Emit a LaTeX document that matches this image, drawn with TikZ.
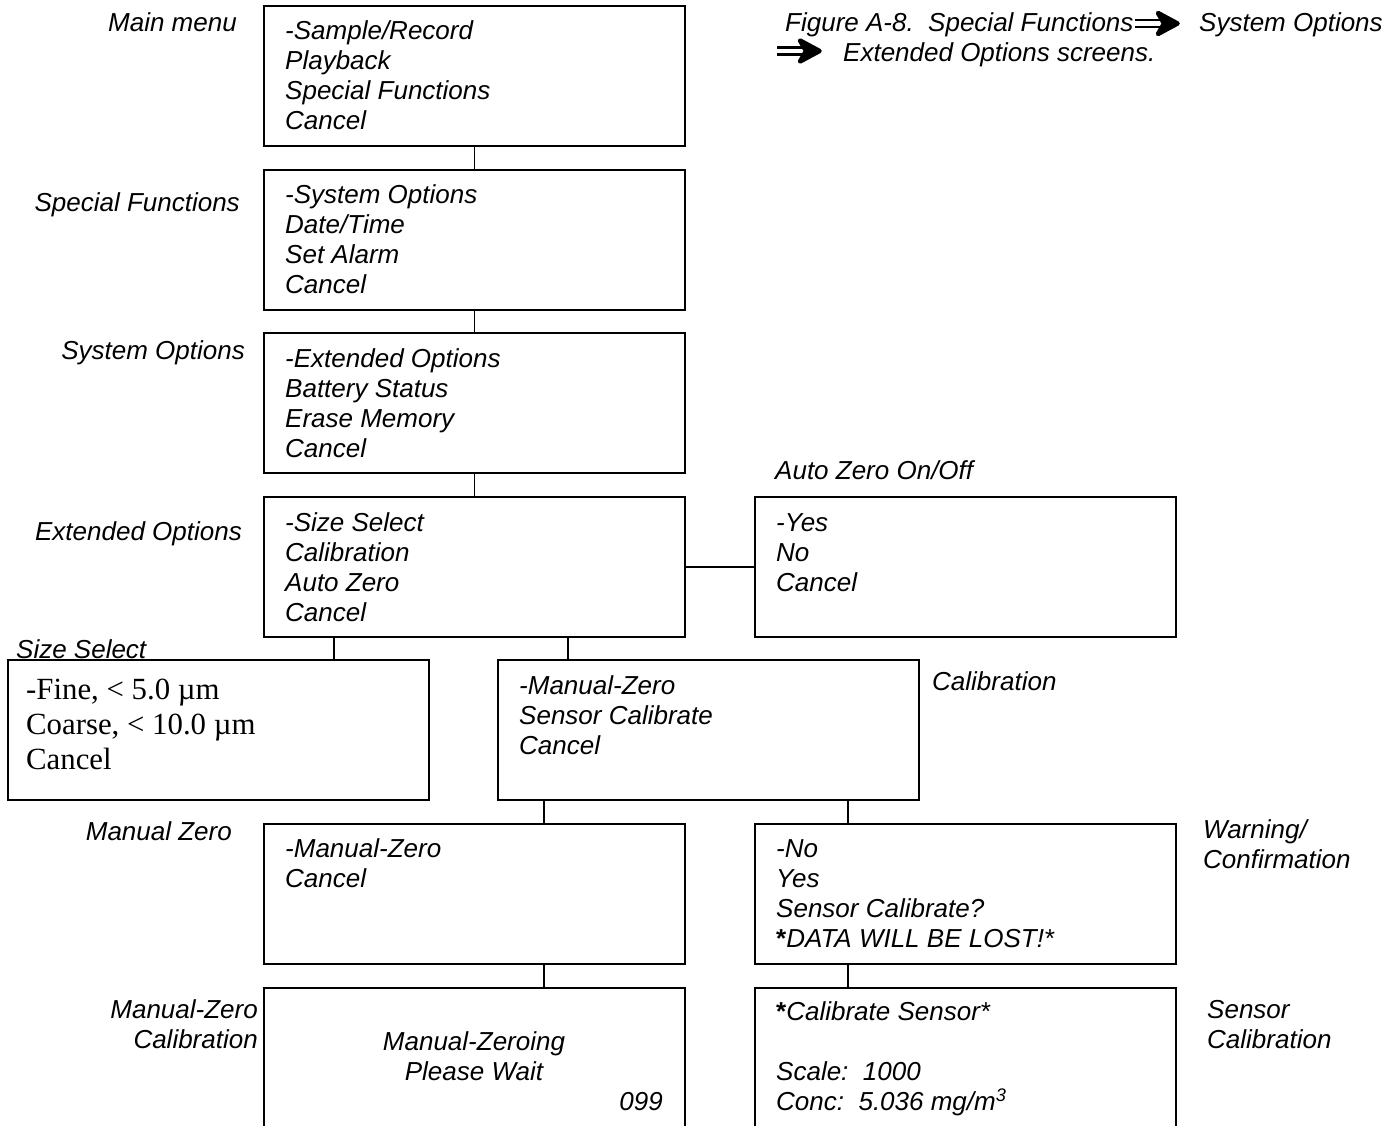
\documentclass[tikz,border=0pt]{standalone}
\usepackage{fontspec}
\setmainfont{Liberation Sans}
\newfontfamily\timesfont{Liberation Serif}
\newcommand\mylines[2][l]{\begin{tabular}[t]{@{}#1@{}}#2\end{tabular}}
\newcommand\boldstar{{\bfseries\upshape *}}
\tikzset{
  box/.style={draw, line width=1.8pt, rectangle, anchor=north west, inner sep=0pt,
              minimum width=421pt, minimum height=140pt},
  txt/.style={anchor=base west, inner sep=0pt, font=\fontsize{26}{30}\selectfont\itshape},
  lbl/.style={txt, anchor=base east},
  sertxt/.style={anchor=base west, inner sep=0pt, font=\fontsize{30.8}{35}\selectfont\timesfont\upshape},
  link/.style={line width=1.5pt},
  dblarrow/.pic={
    \draw[line width=2.6pt] (0,-3.4) -- (30,-3.4) (0,3.4) -- (30,3.4);
    \draw[line width=4.5pt, line join=round, fill] (23,-10.5) -- (42.5,0) -- (23,10.5) -- (29,0) -- cycle;
  }
}
\begin{document}
\begin{tikzpicture}[x=1pt, y=-1pt]
\useasboundingbox (0,0) rectangle (1390,1126);

% boxes
\node[box] (mm)   at (263,5)   {};
\node[box] (sf)   at (263,169) {};
\node[box] (so)   at (263,332) {};
\node[box] (eo)   at (263,496) {};
\node[box] (az)   at (754,496) {};
\node[box] (ss)   at (7,659)   {};
\node[box] (cal)  at (497,659) {};
\node[box] (mz)   at (263,823) {};
\node[box] (warn) at (754,823) {};
\node[box] (mzc)  at (263,987) {};
\node[box] (sc)   at (754,987) {};

% box contents
\node[txt] (mmt) at (285,40)  {\mylines{-Sample/Record\\Playback\\Special Functions\\Cancel}};
\node[txt] (sft) at (285,204) {\mylines{-System Options\\Date/Time\\Set Alarm\\Cancel}};
\node[txt] (sot) at (285,367) {\mylines{-Extended Options\\Battery Status\\Erase Memory\\Cancel}};
\node[txt] (eot) at (285,531) {\mylines{-Size Select\\Calibration\\Auto Zero\\Cancel}};
\node[txt] (azt) at (776,531) {\mylines{-Yes\\No\\Cancel}};
\node[sertxt] (sst) at (26,699) {\mylines{-Fine, < 5.0 µm\\Coarse, < 10.0 µm\\Cancel}};
\node[txt] (calt) at (519,694) {\mylines{-Manual-Zero\\Sensor Calibrate\\Cancel}};
\node[txt] (mzt) at (285,857) {\mylines{-Manual-Zero\\Cancel}};
\node[txt] (warnt) at (776,857) {\mylines{-No\\Yes\\Sensor Calibrate?\\\boldstar DATA WILL BE LOST!*}};
\node[txt, anchor=base] (mzct) at (474,1050) {\mylines[c]{Manual-Zeroing\\Please Wait}};
\node[lbl] (mzcn) at (663,1110) {099};
\node[txt] (sct) at (776,1020) {\mylines{\boldstar Calibrate Sensor*\\ {} \\Scale:\ \ 1000\\Conc:\ \ 5.036 mg/m\textsuperscript{3}}};

% labels
\node[lbl] (l1) at (237,32)  {Main menu};
\node[lbl] (l2) at (240,212) {Special Functions};
\node[lbl] (l3) at (245,359) {System Options};
\node[lbl] (l4) at (242,540) {Extended Options};
\node[txt] (l5) at (775,479) {Auto Zero On/Off};
\node[txt] (l6) at (16,658)  {Size Select};
\node[txt] (l7) at (932,690) {Calibration};
\node[lbl] (l8) at (232,840) {Manual Zero};
\node[txt] (l9) at (1203,838) {\mylines{Warning/\\Confirmation}};
\node[lbl] (l10) at (258,1018) {\mylines[r]{Manual-Zero\\Calibration}};
\node[txt] (l11) at (1207,1018) {\mylines{Sensor\\Calibration}};

% caption
\node[txt] (cap1) at (785,32) {Figure A-8.\ \ Special Functions};
\node[txt] (cap2) at (1199,32) {System Options};
\node[txt] (cap3) at (843,62) {Extended Options screens.};
\pic at (1135,23.5) {dblarrow};
\pic at (777,51) {dblarrow};

% connectors
\draw[link] (mm.south) -- (sf.north);
\draw[link] (sf.south) -- (so.north);
\draw[link] (so.south) -- (eo.north);
\draw[link] (eo.east) -- (az.west);
\draw[link] ([xshift=71pt]eo.south west) -- ([xshift=327pt]ss.north west);
\draw[link] ([xshift=305pt]eo.south west) -- ([xshift=71pt]cal.north west);
\draw[link] ([xshift=47pt]cal.south west) -- ([xshift=281pt]mz.north west);
\draw[link] ([xshift=351pt]cal.south west) -- ([xshift=94pt]warn.north west);
\draw[link] ([xshift=281pt]mz.south west) -- ([xshift=281pt]mzc.north west);
\draw[link] ([xshift=94pt]warn.south west) -- ([xshift=94pt]sc.north west);
\end{tikzpicture}
\end{document}
